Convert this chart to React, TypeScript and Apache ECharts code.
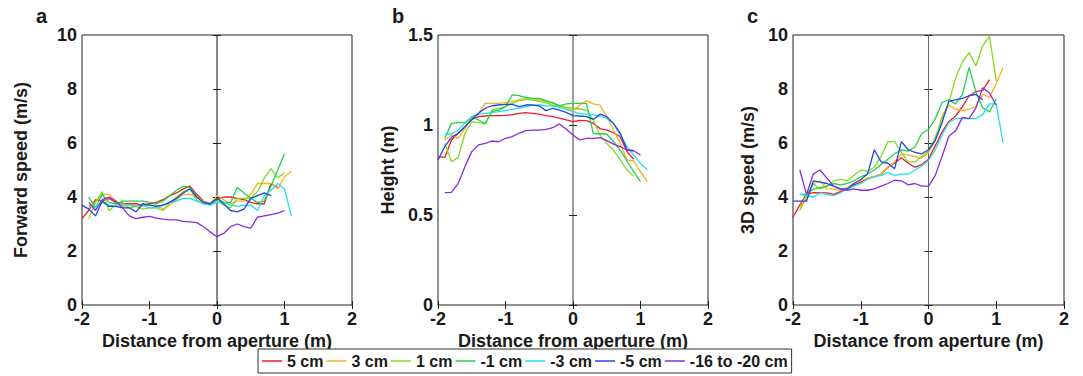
import React, { useEffect, useRef } from "react";
import * as echarts from "echarts";

// Distance from aperture (m), sampled every 0.1 m
const DIST = [-2.0, -1.9, -1.8, -1.7, -1.6, -1.5, -1.4, -1.3, -1.2, -1.1, -1.0, -0.9, -0.8, -0.7, -0.6, -0.5, -0.4, -0.3, -0.2, -0.1, 0.0, 0.1, 0.2, 0.3, 0.4, 0.5, 0.6, 0.7, 0.8, 0.9, 1.0, 1.1];

const SERIES_NAMES = ["5 cm", "3 cm", "1 cm", "-1 cm", "-3 cm", "-5 cm", "-16 to -20 cm"];
const COLORS = ["#ee1c25", "#ffad1f", "#7fdc1f", "#22d04a", "#1fe0f0", "#1f48e0", "#8a2be2"];

const PANEL_LETTERS = ["a", "b", "c"];
const Y_TITLES = ["Forward speed (m/s)", "Height (m)", "3D speed (m/s)"];
const X_TITLE = "Distance from aperture (m)";
const Y_MAX = [10, 1.5, 10];
const Y_STEP = [2, 0.5, 2];
const X_MIN = -2;
const X_MAX = 2;
const X_STEP = 1;

// Panel a: forward speed (m/s)
const A_RED = [3.2, 3.5, 3.9, 3.85, 3.95, 3.8, 3.75, 3.75, 3.75, 3.7, 3.75, 3.8, 3.9, 4.05, 4.15, 4.3, 4.4, 4.1, 3.85, 3.75, 3.9, 4.0, 4.0, 3.95, 3.9, 3.8, 3.75, 3.75, 4.5, 4.35, null, null];
const A_ORANGE = [null, 3.6, 3.8, 4.1, 4.1, 3.85, 3.65, 3.6, 3.7, 3.65, 3.7, 3.7, 3.55, 3.7, 3.9, 4.1, 4.1, 4.0, 3.85, 3.75, 4.05, 3.9, 3.75, 3.85, 3.85, 4.1, 4.5, 4.5, 4.5, 4.3, 4.75, 4.95];
const A_LIME = [null, 3.2, 3.8, 4.2, 3.5, 3.7, 3.8, 3.6, 3.65, 3.55, 3.6, 3.6, 3.5, 3.8, 4.0, 4.2, 4.3, 3.9, 3.75, 3.75, 3.85, 3.7, 3.6, 3.95, 3.95, 3.95, 4.2, 4.7, 5.05, 4.7, 4.9, null];
const A_GREEN = [null, 4.0, 3.6, 4.1, 3.8, 3.75, 3.85, 3.85, 3.85, 3.85, 3.8, 3.75, 3.85, 4.05, 4.25, 4.4, 4.35, 4.0, 3.8, 3.7, 3.95, 3.8, 3.8, 4.35, 4.15, 3.95, 3.8, 3.85, 4.4, 5.0, 5.6, null];
const A_CYAN = [null, 3.7, 3.6, 3.8, 3.7, 3.65, 3.7, 3.7, 3.65, 3.7, 3.6, 3.6, 3.7, 3.8, 3.85, 3.95, 3.95, 3.85, 3.75, 3.7, 3.8, 3.8, 3.7, 3.65, 3.7, 3.7, 3.5, 4.05, 4.25, 4.5, 4.3, 3.3];
const A_BLUE = [3.7, 3.55, 3.3, 3.85, 3.65, 3.65, 3.6, 3.6, 3.45, 3.75, 3.7, 3.65, 3.7, 3.8, 3.95, 4.15, 4.3, 4.0, 3.8, 3.75, 3.95, 3.75, 3.5, 3.45, 3.55, 3.95, 4.05, 4.15, 4.05, null, null, null];
const A_PURPLE = [null, 3.8, 3.5, 3.9, 4.0, 3.85, 3.6, 3.3, 3.2, 3.25, 3.28, 3.22, 3.18, 3.15, 3.15, 3.1, 3.08, 3.05, 2.9, 2.7, 2.53, 2.65, 2.9, 3.0, 2.9, 2.85, 3.25, 3.3, 3.35, 3.4, 3.5, null];

// Panel b: height (m)
const B_RED = [0.824, 0.82, 0.917, 0.954, 0.99, 1.03, 1.046, 1.05, 1.052, 1.052, 1.054, 1.057, 1.065, 1.069, 1.065, 1.06, 1.052, 1.046, 1.038, 1.028, 1.019, 1.026, 1.024, 1.009, 0.98, 0.972, 0.957, 0.935, 0.852, 0.81, null, null];
const B_ORANGE = [null, 0.917, 0.944, 0.926, 0.981, 1.046, 1.065, 1.12, 1.12, 1.12, 1.124, 1.13, 1.139, 1.148, 1.143, 1.139, 1.13, 1.12, 1.106, 1.093, 1.08, 1.111, 1.135, 1.117, 1.111, 1.046, 0.972, 0.898, 0.806, 0.8, 0.741, 0.685];
const B_LIME = [null, 0.898, 0.796, 0.82, 0.954, 1.019, 1.013, 1.006, 1.083, 1.093, 1.102, 1.12, 1.135, 1.143, 1.139, 1.13, 1.124, 1.111, 1.106, 1.098, 1.093, 1.089, 1.083, 1.028, 0.944, 0.898, 0.861, 0.806, 0.75, 0.713, null, null];
const B_GREEN = [null, 0.926, 1.009, 1.013, 1.013, 1.046, 1.028, 1.009, 1.074, 1.083, 1.102, 1.167, 1.163, 1.154, 1.148, 1.148, 1.135, 1.124, 1.106, 1.117, 1.12, 1.12, 1.12, 0.954, 0.95, 0.95, 0.907, 0.86, 0.8, 0.74, 0.685, null];
const B_CYAN = [null, 0.95, 0.95, 0.972, 1.009, 1.046, 1.06, 1.065, 1.069, 1.074, 1.08, 1.087, 1.093, 1.102, 1.111, 1.111, 1.107, 1.105, 1.098, 1.087, 1.074, 1.065, 1.06, 1.056, 1.05, 1.037, 1.009, 0.944, 0.88, 0.833, 0.787, 0.75];
const B_BLUE = [0.806, 0.88, 0.931, 0.954, 0.99, 1.031, 1.065, 1.093, 1.107, 1.111, 1.115, 1.115, 1.102, 1.111, 1.111, 1.106, 1.08, 1.093, 1.083, 1.07, 1.052, 1.05, 1.046, 1.031, 1.06, 1.046, 1.009, 0.954, 0.861, 0.857, null, null];
const B_PURPLE = [null, 0.624, 0.626, 0.676, 0.769, 0.852, 0.889, 0.898, 0.911, 0.907, 0.926, 0.935, 0.954, 0.969, 0.972, 0.972, 0.976, 0.985, 1.006, 0.976, 0.944, 0.917, 0.926, 0.926, 0.93, 0.913, 0.894, 0.88, 0.861, 0.857, 0.833, null];

// Panel c: 3D speed (m/s)
const C_RED = [3.25, 3.7, 4.11, 4.16, 4.15, 4.15, 4.1, 4.2, 4.3, 4.45, 4.55, 4.7, 4.75, 4.85, 5.1, 5.25, 5.45, 5.25, 5.1, 5.2, 5.4, 5.9, 6.4, 6.8, 7.0, 7.35, 7.75, 7.9, 7.95, 8.35, null, null];
const C_ORANGE = [null, 3.6, 4.05, 4.5, 4.6, 4.3, 4.3, 4.25, 4.35, 4.5, 4.6, 4.7, 4.75, 4.85, 5.1, 5.3, 5.6, 5.55, 5.5, 5.45, 5.65, 6.1, 7.0, 7.4, 7.25, 7.2, 7.25, 7.35, 7.8, 7.7, 8.2, 8.8];
const C_LIME = [null, 3.5, 4.0, 4.5, 4.3, 4.4, 4.6, 4.65, 4.6, 4.8, 5.0, 4.95, 5.1, 5.5, 6.05, 6.05, 5.65, 5.3, 5.3, 5.5, 5.7, 6.2, 6.9, 7.5, 8.4, 9.0, 9.35, 8.85, 9.6, 9.95, 8.3, null];
const C_GREEN = [null, 4.1, 4.1, 4.3, 4.35, 4.4, 4.5, 4.45, 4.5, 4.6, 4.75, 4.85, 5.0, 5.2, 5.4, 5.6, 5.75, 5.7, 5.85, 6.35, 6.5, 6.9, 7.5, 7.6, 7.45, 7.8, 8.8, 7.9, 7.3, 7.15, 7.65, null];
const C_CYAN = [null, 4.1, 4.05, 4.0, 4.15, 4.1, 4.05, 4.15, 4.3, 4.4, 4.5, 4.65, 4.75, 4.8, 4.9, 4.8, 4.85, 4.85, 5.0, 5.15, 5.35, 5.75, 6.3, 6.75, 6.9, 6.9, 6.9, 6.9, 7.05, 7.45, 7.45, 6.0];
const C_BLUE = [3.85, 3.85, 3.85, 4.6, 4.55, 4.5, 4.4, 4.3, 4.3, 4.5, 4.65, 4.85, 5.75, 5.3, 5.25, 5.05, 6.05, 5.75, 5.65, 5.6, 5.75, 6.1, 6.75, 7.55, 7.6, 7.65, 7.75, 7.8, 7.6, null, null, null];
const C_PURPLE = [null, 5.0, 4.1, 4.85, 5.0, 4.7, 4.4, 4.3, 4.25, 4.3, 4.25, 4.25, 4.3, 4.4, 4.5, 4.62, 4.6, 4.45, 4.5, 4.4, 4.4, 4.8, 5.5, 6.25, 6.45, 6.95, 6.9, 7.3, 8.05, 7.85, 7.4, null];

const PANELS = [
  [A_RED, A_ORANGE, A_LIME, A_GREEN, A_CYAN, A_BLUE, A_PURPLE],
  [B_RED, B_ORANGE, B_LIME, B_GREEN, B_CYAN, B_BLUE, B_PURPLE],
  [C_RED, C_ORANGE, C_LIME, C_GREEN, C_CYAN, C_BLUE, C_PURPLE],
];

// Layout
const FONT = "'Liberation Sans', Arial, Helvetica, sans-serif";
const GRID_LEFT = [82, 438, 793];
const GRID_WIDTH = [270, 270, 271];
const GRID_TOP = 35;
const GRID_HEIGHT = 270;
const Y_NAME_GAP = [52, 41, 36];
const LETTER_X = [36, 392, 747];
const ZERO_LINE_COLOR = ["#111111", "#3a3a3a", "#666666"];
const TEXT_COLOR = "#1a1a1a";

function buildOption() {
  const grid: any[] = [];
  const xAxis: any[] = [];
  const yAxis: any[] = [];
  const series: any[] = [];
  const graphic: any[] = [];

  for (let p = 0; p < 3; p++) {
    grid.push({
      left: GRID_LEFT[p],
      top: GRID_TOP,
      width: GRID_WIDTH[p],
      height: GRID_HEIGHT,
      show: true,
      borderColor: "#222222",
      borderWidth: 1,
      backgroundColor: "#ffffff",
    });
    const tick = { show: true, inside: true, length: 4, lineStyle: { color: "#222222", width: 1 } };
    xAxis.push({
      type: "value",
      gridIndex: p,
      min: X_MIN,
      max: X_MAX,
      interval: X_STEP,
      position: "bottom",
      axisLine: { show: false },
      axisTick: tick,
      splitLine: { show: false },
      axisLabel: { show: true, margin: 7, fontSize: 18, lineHeight: 13, fontWeight: "bold", fontFamily: FONT, color: TEXT_COLOR },
      name: X_TITLE,
      nameLocation: "middle",
      nameGap: 18,
      nameTextStyle: { fontSize: 18, fontWeight: "bold", fontFamily: FONT, color: TEXT_COLOR },
    });
    xAxis.push({
      type: "value",
      gridIndex: p,
      min: X_MIN,
      max: X_MAX,
      interval: X_STEP,
      position: "top",
      axisLine: { show: false },
      axisTick: tick,
      splitLine: { show: false },
      axisLabel: { show: false },
    });
    yAxis.push({
      type: "value",
      gridIndex: p,
      min: 0,
      max: Y_MAX[p],
      interval: Y_STEP[p],
      position: "left",
      axisLine: { show: false },
      axisTick: tick,
      splitLine: { show: false },
      axisLabel: { show: true, margin: 5, fontSize: 18, lineHeight: 12, fontWeight: "bold", fontFamily: FONT, color: TEXT_COLOR },
      name: Y_TITLES[p],
      nameLocation: "middle",
      nameGap: Y_NAME_GAP[p],
      nameRotate: 90,
      nameTextStyle: { fontSize: 18, fontWeight: "bold", fontFamily: FONT, color: TEXT_COLOR },
    });
    yAxis.push({
      type: "value",
      gridIndex: p,
      min: 0,
      max: Y_MAX[p],
      interval: Y_STEP[p],
      position: "right",
      axisLine: { show: false },
      axisTick: tick,
      splitLine: { show: false },
      axisLabel: { show: false },
    });

    // vertical reference line at the aperture (x = 0)
    series.push({
      type: "line",
      xAxisIndex: 2 * p,
      yAxisIndex: 2 * p,
      data: [[0, 0], [0, Y_MAX[p]]],
      symbol: "none",
      silent: true,
      lineStyle: { color: ZERO_LINE_COLOR[p], width: 1 },
      z: 1,
    });

    PANELS[p].forEach((vals, i) => {
      series.push({
        type: "line",
        name: SERIES_NAMES[i],
        xAxisIndex: 2 * p,
        yAxisIndex: 2 * p,
        data: DIST.map((d, k) => (vals[k] == null ? null : [d, vals[k]])).filter((v) => v !== null),
        symbol: "none",
        color: COLORS[i],
        lineStyle: { color: COLORS[i], width: 1.3 },
        z: 2 + i,
      });
    });

    graphic.push({
      type: "text",
      left: LETTER_X[p],
      top: 6,
      style: { text: PANEL_LETTERS[p], fontSize: 20, fontWeight: "bold", fontFamily: FONT, fill: TEXT_COLOR },
    });
  }

  return {
    animation: false,
    backgroundColor: "#ffffff",
    grid,
    xAxis,
    yAxis,
    series,
    graphic,
    legend: {
      data: SERIES_NAMES,
      left: 258,
      top: 349,
      orient: "horizontal",
      icon: "rect",
      itemWidth: 20,
      itemHeight: 1.5,
      itemGap: 3,
      padding: [4, 4, 4, 4],
      borderColor: "#333333",
      borderWidth: 1,
      backgroundColor: "#ffffff",
      textStyle: { fontSize: 16, fontWeight: "bold", fontFamily: FONT, color: TEXT_COLOR },
    },
  };
}

export default function App() {
  const ref = useRef<HTMLDivElement>(null);
  useEffect(() => {
    if (!ref.current) return;
    const chart = echarts.init(ref.current, null, { renderer: "svg" });
    chart.setOption(buildOption() as any);
    return () => chart.dispose();
  }, []);
  return (
    <div
      ref={ref}
      style={{ position: "absolute", left: 0, top: 0, width: 1083, height: 376, background: "#ffffff" }}
    />
  );
}
